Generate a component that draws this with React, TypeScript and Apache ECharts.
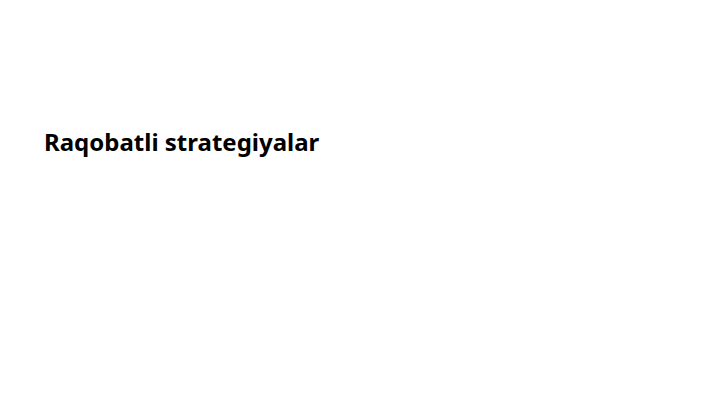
import React, { useEffect, useRef } from "react";
import * as echarts from "echarts";

const titleText = "Raqobatli strategiyalar";
const categories: string[] = [];
const values: number[] = [];

export default function App() {
  const ref = useRef<HTMLDivElement>(null);
  useEffect(() => {
    document.body.style.margin = "0";
    const chart = echarts.init(ref.current!, undefined, { renderer: "svg" });
    chart.setOption({
      animation: false,
      backgroundColor: "#ffffff",
      title: {
        text: titleText,
        left: 44,
        top: 129,
        padding: 0,
        textStyle: {
          fontFamily: "Noto Sans",
          fontWeight: "bold",
          fontSize: 24,
          color: "#000000",
        },
      },
      xAxis: { type: "category", data: categories, show: false },
      yAxis: { type: "value", show: false },
      grid: { show: false },
      series: [{ type: "bar", data: values }],
    });
    return () => chart.dispose();
  }, []);
  return <div ref={ref} style={{ width: 720, height: 406 }} />;
}
